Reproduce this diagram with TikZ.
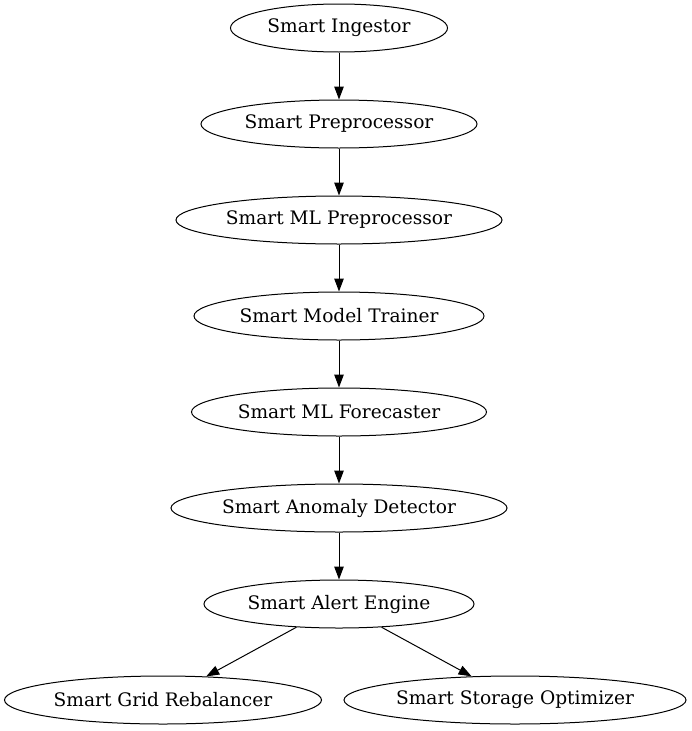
\documentclass[tikz,border=0pt]{standalone}
\usepackage{fontspec}
\setmainfont{DejaVu Serif}
\usetikzlibrary{shapes.geometric,arrows.meta}
\begin{document}
\begin{tikzpicture}[x=1pt,y=-1pt,
  nd/.style={draw, ellipse, line width=1pt, minimum height=48pt, inner sep=0pt,
    font=\fontsize{18.6}{21}\selectfont},
  ar/.style={line width=1pt, -{Triangle[length=13pt,width=9.5pt]}}]
\useasboundingbox (0,0) rectangle (691,731);
\node[nd, minimum width=217pt] (a) at (339,28) {Smart Ingestor};
\node[nd, minimum width=276pt] (b) at (339,124) {Smart Preprocessor};
\node[nd, minimum width=326pt] (c) at (339,220) {Smart ML Preprocessor};
\node[nd, minimum width=290pt] (d) at (339,316) {Smart Model Trainer};
\node[nd, minimum width=295pt] (e) at (339,412) {Smart ML Forecaster};
\node[nd, minimum width=336pt] (f) at (339,508) {Smart Anomaly Detector};
\node[nd, minimum width=270pt] (g) at (339,604) {Smart Alert Engine};
\node[nd, minimum width=317pt] (h) at (163,700) {Smart Grid Rebalancer};
\node[nd, minimum width=342pt] (i) at (515,700) {Smart Storage Optimizer};
\draw[ar] (a) -- (b);
\draw[ar] (b) -- (c);
\draw[ar] (c) -- (d);
\draw[ar] (d) -- (e);
\draw[ar] (e) -- (f);
\draw[ar] (f) -- (g);
\draw[ar] (g) -- (h);
\draw[ar] (g) -- (i);
\end{tikzpicture}
\end{document}
